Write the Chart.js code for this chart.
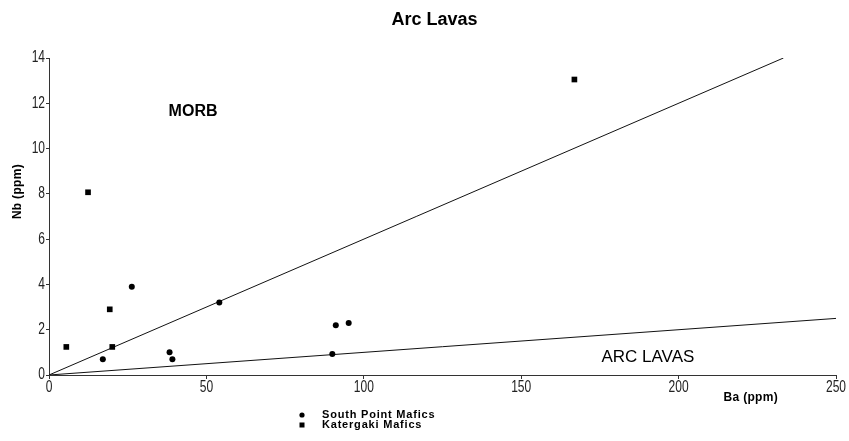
<!DOCTYPE html>
<html>
<head>
<meta charset="utf-8">
<title>Arc Lavas</title>
<script src="https://cdn.jsdelivr.net/npm/chart.js@4.4.0/dist/chart.umd.min.js"></script>
<style>
  html, body { margin: 0; padding: 0; background: #fff; }
  #wrap { width: 849px; height: 441px; }
</style>
</head>
<body>
<div id="wrap"><canvas id="arc-chart"></canvas></div>
<script>
// South Point Mafics (circles)
const southBa = [17.1, 26.3, 38.3, 39.2, 54.1, 90.0, 91.1, 95.2];
const southNb = [0.7, 3.9, 1.0, 0.7, 3.2, 0.93, 2.2, 2.3];
// Katergaki Mafics (squares)
const katBa = [5.5, 12.4, 19.3, 20.1, 166.9];
const katNb = [1.24, 8.07, 2.9, 1.24, 13.05];
// discrimination lines (Nb/Ba = 0.06 and 0.01)
const morbLineBa = [0, 233.3];
const morbLineNb = [0, 14];
const arcLineBa = [0, 250];
const arcLineNb = [0, 2.5];
const seriesNames = ['South Point Mafics', 'Katergaki Mafics'];

const plainFont = "'Liberation Sans', Arial, sans-serif";

function toPoints(xs, ys) {
    return xs.map((x, i) => ({ x: x, y: ys[i] }));
}

// squeezed text, the tick labels in the original are tall and narrow
function narrowText(ctx, text, x, y, squeeze) {
    ctx.save();
    ctx.translate(x, y);
    ctx.scale(squeeze, 1);
    ctx.fillText(text, 0, 0);
    ctx.restore();
}

// tick labels, title, text labels, axis titles and the two-line legend
const extrasPlugin = {
    id: 'extras',
    afterDraw(chart) {
        const ctx = chart.ctx;
        const xs = chart.scales.x;
        const ys = chart.scales.y;
        const area = chart.chartArea;
        ctx.save();
        ctx.fillStyle = '#000';
        ctx.textBaseline = 'middle';

        // tick labels
        ctx.fillStyle = '#222';
        ctx.font = '16px ' + plainFont;
        ctx.textAlign = 'center';
        xs.ticks.forEach((t, i) => {
            narrowText(ctx, t.label, xs.getPixelForTick(i), area.bottom + 13, 0.75);
        });
        ctx.textAlign = 'right';
        ys.ticks.forEach((t, i) => {
            narrowText(ctx, t.label, area.left - 4, ys.getPixelForTick(i), 0.75);
        });
        ctx.fillStyle = '#000';

        ctx.font = 'bold 18px ' + plainFont;
        ctx.textAlign = 'center';
        ctx.fillText('Arc Lavas', area.left + 385.5, 20);

        ctx.font = 'bold 16px ' + plainFont;
        ctx.textAlign = 'left';
        ctx.fillText('MORB', xs.getPixelForValue(38), ys.getPixelForValue(11.65));

        ctx.font = '17px ' + plainFont;
        ctx.fillText('ARC LAVAS', xs.getPixelForValue(175.5), ys.getPixelForValue(0.8));

        ctx.font = 'bold 12px ' + plainFont;
        ctx.letterSpacing = '0.3px';
        ctx.textAlign = 'right';
        ctx.fillText('Ba (ppm)', area.right - 58, area.bottom + 23);

        ctx.save();
        ctx.translate(18, ys.getPixelForValue(8.1));
        ctx.rotate(-Math.PI / 2);
        ctx.textAlign = 'center';
        ctx.fillText('Nb (ppm)', 0, 0);
        ctx.restore();

        // legend
        const lx = area.left + 253;
        const ly = area.bottom + 40;
        chart.data.datasets.slice(0, 2).forEach((ds, i) => {
            const y = ly + i * 10;
            if (ds.pointStyle === 'rect') {
                ctx.fillRect(lx - 2.5, y - 2.5, 5, 5);
            } else {
                ctx.beginPath();
                ctx.arc(lx, y, 2.6, 0, Math.PI * 2);
                ctx.fill();
            }
            ctx.font = 'bold 11px ' + plainFont;
            ctx.textAlign = 'left';
            ctx.letterSpacing = '0.8px';
            ctx.fillText(ds.label, lx + 20, y);
        });
        ctx.restore();
    }
};

const chart = new Chart(document.getElementById('arc-chart'), {
    type: 'scatter',
    data: {
        datasets: [
            {
                label: seriesNames[0],
                data: toPoints(southBa, southNb),
                pointStyle: 'circle',
                pointRadius: 3,
                backgroundColor: '#000',
                borderWidth: 0
            },
            {
                label: seriesNames[1],
                data: toPoints(katBa, katNb),
                pointStyle: 'rect',
                pointRadius: 4,
                backgroundColor: '#000',
                borderWidth: 0
            },
            {
                label: 'MORB line',
                data: toPoints(morbLineBa, morbLineNb),
                showLine: true,
                borderColor: '#111',
                borderWidth: 1,
                pointRadius: 0
            },
            {
                label: 'Arc line',
                data: toPoints(arcLineBa, arcLineNb),
                showLine: true,
                borderColor: '#111',
                borderWidth: 1,
                pointRadius: 0
            }
        ]
    },
    options: {
        responsive: true,
        maintainAspectRatio: false,
        animation: false,
        layout: { padding: { left: 0, right: 13, top: 58, bottom: 0 } },
        plugins: {
            legend: { display: false },
            tooltip: { enabled: false },
            title: { display: false }
        },
        scales: {
            x: {
                type: 'linear',
                min: 0,
                max: 250,
                ticks: { stepSize: 50, display: false },
                grid: { drawOnChartArea: false, tickLength: 4, color: '#333' },
                border: { color: '#333' },
                afterFit(scale) { scale.height = 66; }
            },
            y: {
                type: 'linear',
                min: 0,
                max: 14,
                ticks: { stepSize: 2, display: false },
                grid: { drawOnChartArea: false, tickLength: 3, color: '#333' },
                border: { color: '#333' },
                afterFit(scale) { scale.width = 49; }
            }
        }
    },
    plugins: [extrasPlugin]
});
</script>
</body>
</html>
